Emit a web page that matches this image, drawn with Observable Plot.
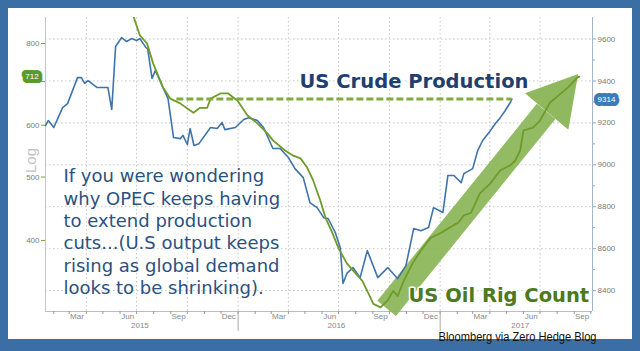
<!DOCTYPE html>
<html><head><meta charset="utf-8">
<script src="https://cdn.jsdelivr.net/npm/d3@7"></script>
<script src="https://cdn.jsdelivr.net/npm/@observablehq/plot@0.6"></script>
<style>
html,body{margin:0;padding:0;width:640px;height:351px;overflow:hidden;background:#3b6ea5;}
#panel{position:absolute;left:8px;top:8px;width:624px;height:331px;background:#fff;}
#chart{position:absolute;left:0;top:0;}
</style></head><body>
<div id="panel"></div><div id="chart"></div>
<script>
// US crude production (right axis, thousand b/d)
const prodDates = ["2015-01-17","2015-01-22","2015-02-01","2015-02-17","2015-02-26","2015-03-16","2015-03-23","2015-03-29","2015-04-04","2015-04-20","2015-05-10","2015-05-17","2015-05-24","2015-06-04","2015-06-13","2015-06-22","2015-07-01","2015-07-07","2015-07-18","2015-07-21","2015-07-29","2015-08-04","2015-08-27","2015-09-06","2015-09-18","2015-09-23","2015-10-01","2015-10-06","2015-10-13","2015-10-22","2015-11-12","2015-11-24","2015-12-03","2015-12-08","2015-12-27","2016-01-11","2016-01-20","2016-02-05","2016-02-16","2016-03-04","2016-03-17","2016-04-01","2016-04-13","2016-04-28","2016-05-10","2016-05-23","2016-06-04","2016-06-12","2016-06-25","2016-07-04","2016-07-09","2016-07-16","2016-07-27","2016-08-09","2016-08-22","2016-09-10","2016-09-28","2016-10-16","2016-10-31","2016-11-14","2016-11-27","2016-12-11","2016-12-20","2017-01-06","2017-01-15","2017-01-26","2017-02-08","2017-02-13","2017-03-01","2017-03-10","2017-03-19","2017-04-02","2017-04-11","2017-04-20","2017-04-29","2017-05-08","2017-05-11"];
const prodValues = [9187,9211,9178,9273,9292,9416,9416,9388,9402,9369,9369,9264,9564,9607,9588,9602,9593,9602,9559,9555,9412,9450,9316,9130,9125,9140,9097,9173,9092,9101,9178,9173,9202,9168,9178,9216,9225,9211,9178,9078,9078,9035,8982,8939,8820,8796,8748,8744,8677,8605,8434,8482,8510,8462,8591,8462,8510,8457,8519,8696,8686,8701,8796,8773,8949,8949,8915,8958,8982,9068,9116,9163,9197,9225,9259,9297,9314];

// US oil rig count (left log axis)
const rigDates = ["2015-06-01","2015-06-15","2015-06-28","2015-07-07","2015-07-20","2015-07-31","2015-08-18","2015-08-31","2015-09-18","2015-10-12","2015-10-24","2015-11-06","2015-11-12","2015-11-30","2015-12-14","2015-12-31","2016-01-18","2016-02-05","2016-02-23","2016-03-04","2016-03-26","2016-04-10","2016-04-23","2016-05-05","2016-05-16","2016-05-29","2016-06-07","2016-06-20","2016-07-01","2016-07-16","2016-07-27","2016-08-13","2016-08-24","2016-09-02","2016-09-15","2016-09-28","2016-10-08","2016-10-16","2016-10-27","2016-11-12","2016-11-27","2016-12-15","2017-01-03","2017-01-15","2017-02-03","2017-02-13","2017-02-26","2017-03-14","2017-04-02","2017-04-20","2017-05-08","2017-05-17","2017-05-26","2017-06-01","2017-06-18","2017-07-01","2017-07-19","2017-08-03","2017-08-20","2017-09-07","2017-09-10"];
const rigValues = [1050,940,867,823,800,746,685,659,648,627,638,638,659,671,671,654,621,604,583,569,549,539,534,517,494,460,434,410,389,369,360,347,332,320,316,324,335,329,347,369,386,404,411,417,426,437,441,472,489,512,521,530,549,589,595,610,650,666,685,710,712];

const rigTicks = [400,500,600,700,800];
const rigTickLabels = ["400","500","600","","800"]; // 700 is hidden under the 712 marker
const prodTicks = [8400,8600,8800,9000,9200,9400,9600];
const prodMinor = [8500,8700,8900,9100,9300,9500];
const monthLabels = ["Mar","Jun","Sep","Dec","Mar","Jun","Sep","Dec","Mar","Jun","Sep"];
const monthLabelDates = ["2015-03-15","2015-06-15","2015-09-15","2015-12-15","2016-03-15","2016-06-15","2016-09-15","2016-12-15","2017-03-15","2017-06-15","2017-09-15"];
const yearLabels = ["2015","2016","2017"];
const yearLabelDates = ["2015-07-07","2016-06-27","2017-05-26"];
const yearBreaks = ["2016-01-01","2017-01-01"];
const quarterGrid = ["2015-04-01","2015-07-01","2015-10-01","2016-01-01","2016-04-01","2016-07-01","2016-10-01","2017-01-01","2017-04-01","2017-07-01"];

const rigLast = 712, prodLast = 9314;
const dashFrom = "2015-09-12", dashTo = "2017-05-11";
const arrowFrom = {date:"2016-09-26", value:315};
const arrowTo = {date:"2017-07-12", value:630};
const arrowHead = {date:"2017-08-01", value:658};

const note = "If you were wondering\nwhy OPEC keeps having\nto extend production\ncuts...(U.S output keeps\nrising as global demand\nlooks to be shrinking).";
const titleProd = "US Crude Production";
const titleRig = "US Oil Rig Count";
const source = "Bloomberg via Zero Hedge Blog";

// map production (right axis) into rig-count (left log axis) space
const p2r = p => { const y = 38.5 + (9600 - p) / 4.771; return 800 * Math.exp((43 - y) / 284); };
const r2p = r => { const y = 43 - 284 * Math.log(r / 800); return 9600 - (y - 38.5) * 4.771; };

const D = s => new Date(s);
const production = prodDates.map((d, i) => ({date: D(d), value: prodValues[i]}));
const rigs = rigDates.map((d, i) => ({date: D(d), value: rigValues[i]}));
const x0 = D("2015-01-17"), x1 = D("2017-10-04");
const yLo = 311.5, yHi = 876.7;
const monthTicks = d3.utcMonth.range(D("2015-02-01"), x1);

const chart = Plot.plot({
  width: 640, height: 351,
  marginLeft: 45, marginRight: 48, marginTop: 17, marginBottom: 40,
  style: {background: "transparent", fontFamily: "'Liberation Sans', Arial, sans-serif", overflow: "visible"},
  x: {type: "utc", domain: [x0, x1]},
  y: {type: "log", domain: [yLo, yHi]},
  marks: [
    Plot.ruleY(prodTicks.map(p2r), {stroke: "#c4c4c4", strokeDasharray: "1.5,2.5"}),
    Plot.ruleX(quarterGrid.map(D), {stroke: "#c4c4c4", strokeDasharray: "1.5,2.5"}),
    Plot.ruleX([x0], {stroke: "#c7c99e"}),
    Plot.ruleX([x1], {stroke: "#a3b7cc"}),
    Plot.ruleY([yLo], {stroke: "#bdbdbd"}),
    Plot.axisY({anchor: "left", ticks: rigTicks, tickFormat: d => rigTickLabels[rigTicks.indexOf(d)] ?? "", tickSize: 4, tickPadding: 2, fontSize: 8, stroke: "#7aa23c", fill: "#7a7a7a", label: null}),
    Plot.axisY({anchor: "right", ticks: prodTicks.map(p2r), tickFormat: d => String(Math.round(r2p(d))), tickSize: 3, tickPadding: 2, fontSize: 8, stroke: "#8aa3c0", fill: "#7a7a7a", label: null}),
    Plot.axisY({anchor: "right", ticks: prodMinor.map(p2r), tickFormat: () => "", tickSize: 2, stroke: "#8aa3c0", label: null}),
    Plot.axisX({ticks: monthTicks, tickFormat: () => "", tickSize: 3, stroke: "#999", label: null}),
    Plot.axisX({ticks: yearBreaks.map(D), tickFormat: () => "", tickSize: 20, stroke: "#aaa", label: null}),
    Plot.text(monthLabelDates, {x: d => D(d), text: (d, i) => monthLabels[i], frameAnchor: "bottom", lineAnchor: "middle", dy: 4.5, fontSize: 8, fill: "#888"}),
    Plot.text(yearLabelDates, {x: d => D(d), text: (d, i) => yearLabels[i], frameAnchor: "bottom", lineAnchor: "middle", dy: 13.5, fontSize: 8, fill: "#888"}),
    Plot.text(["Log"], {frameAnchor: "left", dx: -14, dy: -4, rotate: -90, fontSize: 15, fill: "#c2c2c2", textAnchor: "middle"}),
    Plot.text([note], {frameAnchor: "top-left", dx: 18, dy: 149, lineAnchor: "top", textAnchor: "start", fontSize: 18, lineHeight: 1.24, fill: "#29527f", fontFamily: "'DejaVu Sans', sans-serif"}),
    Plot.link([0], {x1: () => D(arrowFrom.date), y1: () => arrowFrom.value, x2: () => D(arrowTo.date), y2: () => arrowTo.value, stroke: "#8ab556", strokeWidth: 24, strokeOpacity: 0.92}),
    Plot.dot([arrowHead], {x: d => D(d.date), y: "value", symbol: "triangle", r: 21, rotate: 40, fill: "#8ab556", fillOpacity: 0.95, stroke: null}),
    Plot.line(production, {x: "date", y: d => p2r(d.value), stroke: "#3f74aa", strokeWidth: 1.6}),
    Plot.line(rigs, {x: "date", y: "value", stroke: "#6e9b2b", strokeWidth: 1.8, clip: true}),
    Plot.ruleY([prodLast], {y: d => p2r(d), x1: () => D(dashFrom), x2: () => D(dashTo), stroke: "#7fae3e", strokeWidth: 3, strokeDasharray: "7,3"}),
    Plot.text([titleProd], {frameAnchor: "top-left", dx: 254, dy: 64, lineAnchor: "middle", textAnchor: "start", fontSize: 20, fontWeight: "bold", fill: "#1f3f6e", stroke: "white", strokeWidth: 3, fontFamily: "'DejaVu Sans', sans-serif"}),
    Plot.text([titleRig], {frameAnchor: "top-left", dx: 363, dy: 278, lineAnchor: "middle", textAnchor: "start", fontSize: 19.5, fontWeight: "bold", fill: "#4b7a22", stroke: "white", strokeWidth: 3, fontFamily: "'DejaVu Sans', sans-serif"}),
    Plot.text([rigLast], {y: d => d, frameAnchor: "left", dx: -13.5, text: d => String(d), fontSize: 8, fill: "white", stroke: "#5a9c2c", strokeWidth: 8, strokeLinejoin: "round", textAnchor: "middle"}),
    Plot.text([prodLast], {y: d => p2r(d), frameAnchor: "right", dx: 14, text: d => String(d), fontSize: 8, fill: "white", stroke: "#3d7ab8", strokeWidth: 8, strokeLinejoin: "round", textAnchor: "middle"}),
    Plot.text([source], {frameAnchor: "bottom-right", dx: 4, dy: 25.5, lineAnchor: "middle", textAnchor: "end", fontSize: 12, fill: "#111"})
  ]
});
// fit widths of the headline text and the source line to the reference
const fit = {[titleProd]: 229, [source]: 158};
d3.select(chart).selectAll("text").each(function() {
  const w = fit[this.textContent];
  if (w && this.childElementCount === 0) d3.select(this).attr("textLength", w).attr("lengthAdjust", "spacingAndGlyphs");
});
document.getElementById("chart").appendChild(chart);
</script></body></html>
